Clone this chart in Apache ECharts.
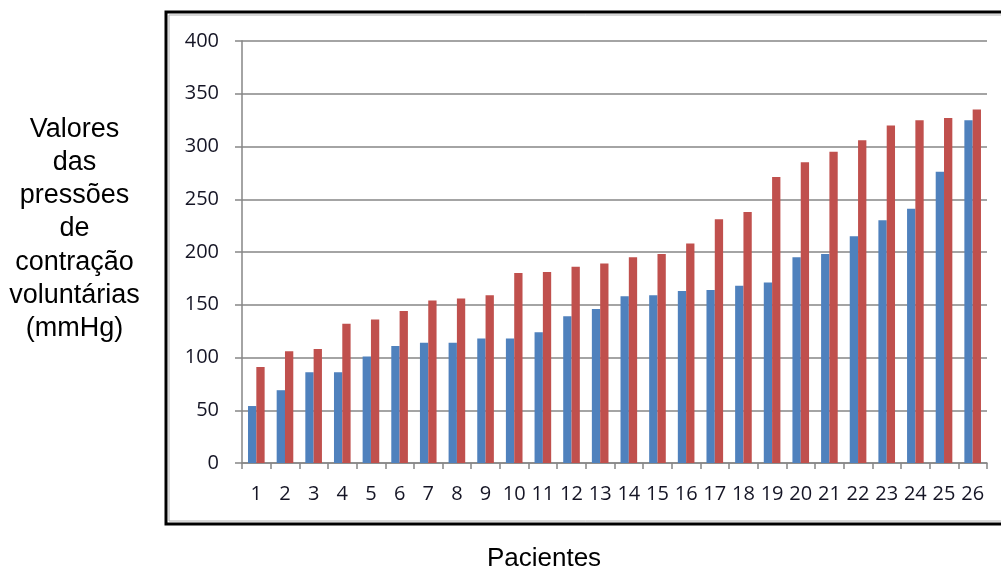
<!DOCTYPE html>
<html>
<head>
<meta charset="utf-8">
<script src="https://cdn.jsdelivr.net/npm/echarts@6/dist/echarts.min.js"></script>
<style>
html,body{margin:0;padding:0;background:#fff;}
#c{width:1001px;height:567px;}
</style>
</head>
<body>
<div id="c"></div>
<script>
const categories = ['1','2','3','4','5','6','7','8','9','10','11','12','13','14','15','16','17','18','19','20','21','22','23','24','25','26'];
const seriesBlue = [54, 69, 86, 86, 101, 111, 114, 114, 118, 118, 124, 139, 146, 158, 159, 163, 164, 168, 171, 195, 198, 215, 230, 241, 276, 325];
const seriesRed = [91, 106, 108, 132, 136, 144, 154, 156, 159, 180, 181, 186, 189, 195, 198, 208, 231, 238, 271, 285, 295, 306, 320, 325, 327, 335];
const yTicks = [0, 50, 100, 150, 200, 250, 300, 350, 400];
const yTitleLines = ['Valores', 'das', 'pressões', 'de', 'contração', 'voluntárias', '(mmHg)'];
const xTitle = 'Pacientes';

const chart = echarts.init(document.getElementById('c'), null, {renderer: 'canvas'});
const tickFont = "'Open Sans', 'Liberation Sans', sans-serif";
chart.setOption({
  animation: false,
  backgroundColor: '#ffffff',
  graphic: [
    {type: 'rect', shape: {x: 166, y: 12, width: 860, height: 512}, style: {fill: 'none', stroke: '#000', lineWidth: 3}, z: 0},
    {type: 'rect', shape: {x: 169, y: 15, width: 860, height: 506}, style: {fill: 'none', stroke: '#b0b0b0', lineWidth: 1}, z: 0},
    {type: 'text', style: {text: yTitleLines.join('\n'), x: 74.5, y: 229, font: "27px 'Liberation Sans', Arial, sans-serif", fill: '#000', align: 'center', verticalAlign: 'middle', lineHeight: 33.3}},
    {type: 'text', style: {text: xTitle, x: 544, y: 559, font: "26px 'Liberation Sans', Arial, sans-serif", fill: '#000', align: 'center', verticalAlign: 'middle'}}
  ],
  grid: {left: 242, right: 14, top: 41, bottom: 104, containLabel: false},
  xAxis: {
    type: 'category',
    data: categories,
    axisLine: {lineStyle: {color: '#868686', width: 1.5}},
    axisTick: {show: true, length: 6, lineStyle: {color: '#868686', width: 1.5}},
    axisLabel: {margin: 21, fontSize: 20, color: '#151525', fontFamily: tickFont, interval: 0}
  },
  yAxis: {
    type: 'value',
    min: 0, max: 400, interval: 50,
    axisLine: {show: true, lineStyle: {color: '#868686', width: 1.5}},
    axisTick: {show: true, length: 7, lineStyle: {color: '#868686', width: 1.5}},
    axisLabel: {margin: 23, fontSize: 20, color: '#151525', fontFamily: tickFont,
      formatter: v => yTicks.includes(v) ? String(v) : ''},
    splitLine: {show: true, lineStyle: {color: '#868686', width: 1.5}}
  },
  series: [
    {type: 'bar', data: seriesBlue, barWidth: '29%', barGap: '0%', itemStyle: {color: '#4F81BD'}},
    {type: 'bar', data: seriesRed, barWidth: '29%', barGap: '0%', itemStyle: {color: '#C0504D'}}
  ]
});
</script>
</body>
</html>
